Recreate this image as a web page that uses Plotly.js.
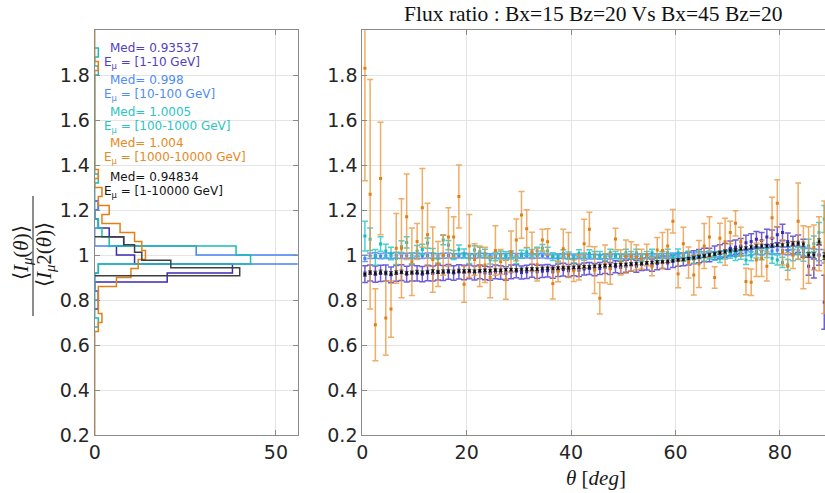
<!DOCTYPE html>
<html>
<head>
<meta charset="utf-8">
<script src="https://cdn.plot.ly/plotly-3.0.1.min.js"></script>
<style>html,body{margin:0;padding:0;background:#fff;}#plot{width:825px;height:493px;}</style>
</head>
<body>
<div id="plot"></div>
<script>
// ---------- data ----------
const theta = [0.5,1.5,2.5,3.5,4.5,5.5,6.5,7.5,8.5,9.5,10.5,11.5,12.5,13.5,14.5,15.5,16.5,17.5,18.5,19.5,
  20.5,21.5,22.5,23.5,24.5,25.5,26.5,27.5,28.5,29.5,30.5,31.5,32.5,33.5,34.5,35.5,36.5,37.5,38.5,39.5,
  40.5,41.5,42.5,43.5,44.5,45.5,46.5,47.5,48.5,49.5,50.5,51.5,52.5,53.5,54.5,55.5,56.5,57.5,58.5,59.5,
  60.5,61.5,62.5,63.5,64.5,65.5,66.5,67.5,68.5,69.5,70.5,71.5,72.5,73.5,74.5,75.5,76.5,77.5,78.5,79.5,
  80.5,81.5,82.5,83.5,84.5,85.5,86.5,87.5,88.5];

const ratio_1_10 = [0.915,0.92,0.915,0.918,0.92,0.912,0.918,0.922,0.915,0.92,
  0.918,0.915,0.92,0.918,0.922,0.92,0.925,0.92,0.925,0.922,
  0.925,0.92,0.925,0.92,0.918,0.925,0.922,0.918,0.925,0.928,
  0.922,0.925,0.93,0.925,0.928,0.93,0.925,0.932,0.935,0.93,
  0.935,0.932,0.938,0.94,0.935,0.94,0.945,0.94,0.948,0.945,
  0.95,0.955,0.95,0.958,0.96,0.955,0.962,0.968,0.965,0.972,
  0.978,0.98,0.985,0.99,0.995,1.0,1.0,1.01,1.015,1.02,
  1.03,1.035,1.04,1.055,1.06,1.07,1.065,1.08,1.075,1.09,
  1.1,1.06,1.045,1.05,1.03,0.95,0.94,1.0,0.79];
const err_1_10 = [0.037,0.036,0.036,0.036,0.035,0.035,0.035,0.035,0.035,0.035,
  0.034,0.034,0.034,0.033,0.033,0.033,0.033,0.032,0.032,0.032,
  0.031,0.031,0.031,0.03,0.03,0.03,0.03,0.03,0.03,0.029,
  0.029,0.029,0.029,0.029,0.028,0.028,0.028,0.028,0.028,0.028,
  0.027,0.027,0.027,0.027,0.027,0.027,0.027,0.027,0.027,0.027,
  0.027,0.027,0.027,0.027,0.027,0.027,0.027,0.028,0.028,0.028,
  0.028,0.028,0.029,0.029,0.029,0.03,0.03,0.03,0.031,0.031,
  0.032,0.032,0.033,0.033,0.034,0.034,0.035,0.035,0.036,0.036,
  0.037,0.038,0.038,0.039,0.04,0.04,0.042,0.045,0.12];

const ratio_10_100 = [0.985,0.997,0.998,0.995,0.997,0.996,0.998,0.995,0.997,0.998,
  0.997,0.996,0.998,0.997,0.995,0.997,0.998,0.996,0.997,0.998,
  0.997,0.996,0.998,0.997,0.996,0.995,0.997,0.996,0.998,0.997,
  0.996,0.997,0.995,0.996,0.997,0.995,0.994,0.996,0.995,0.994,
  0.995,0.993,0.994,0.992,0.993,0.991,0.993,0.992,0.994,0.993,
  0.992,0.994,0.993,0.995,0.994,0.996,0.995,0.997,0.996,0.998,
  0.997,0.999,1.0,0.998,1.001,1.002,1.0,1.003,1.004,1.005,
  1.006,1.008,1.01,1.012,1.015,1.018,1.016,1.02,1.018,1.022,
  1.02,1.018,1.022,1.02,1.015,1.01,1.005,1.0,0.995];
const err_10_100 = [0.014,0.012,0.012,0.012,0.012,0.012,0.012,0.011,0.011,0.011,
  0.011,0.011,0.011,0.011,0.011,0.011,0.011,0.01,0.01,0.01,
  0.01,0.01,0.01,0.01,0.01,0.01,0.01,0.01,0.01,0.01,
  0.01,0.01,0.01,0.01,0.01,0.01,0.01,0.01,0.01,0.01,
  0.01,0.01,0.01,0.01,0.01,0.01,0.01,0.01,0.01,0.01,
  0.01,0.01,0.01,0.01,0.01,0.01,0.01,0.01,0.01,0.011,
  0.011,0.011,0.011,0.011,0.012,0.012,0.012,0.012,0.012,0.013,
  0.013,0.013,0.013,0.014,0.014,0.014,0.015,0.015,0.015,0.016,
  0.016,0.017,0.017,0.018,0.019,0.02,0.022,0.025,0.03];

const ratio_100_1000 = [1.084,1.07,0.99,1.049,1.018,1.007,0.985,1.037,1.056,0.985,
  1.018,1.025,1.053,1.007,0.985,1.067,1.044,1.0,1.025,1.007,
  0.982,1.022,1.015,1.007,0.978,0.993,1.0,0.996,1.0,0.978,
  1.004,1.015,1.007,1.018,1.03,1.018,0.993,0.985,1.007,0.997,
  0.982,1.007,0.993,1.007,1.0,1.0,0.99,1.01,1.0,0.99,
  1.01,1.0,1.01,0.99,1.0,1.01,0.99,1.0,1.01,0.99,
  1.01,0.99,1.0,0.98,1.0,0.99,1.0,0.995,0.985,1.0,
  1.005,0.995,1.0,0.978,0.995,1.007,1.0,1.01,0.985,0.978,
  0.967,0.956,1.0,1.007,1.0,1.04,1.05,1.1,1.16];
const err_100_1000 = [0.066,0.05,0.035,0.032,0.03,0.028,0.027,0.026,0.025,0.024,
  0.024,0.023,0.023,0.022,0.022,0.021,0.021,0.02,0.02,0.02,
  0.02,0.019,0.019,0.019,0.018,0.018,0.018,0.018,0.018,0.017,
  0.017,0.017,0.017,0.017,0.017,0.017,0.017,0.016,0.016,0.016,
  0.016,0.016,0.016,0.016,0.016,0.016,0.016,0.016,0.016,0.016,
  0.016,0.016,0.016,0.016,0.016,0.016,0.016,0.016,0.016,0.016,
  0.017,0.017,0.017,0.017,0.017,0.017,0.018,0.018,0.018,0.018,
  0.019,0.019,0.019,0.02,0.02,0.02,0.021,0.021,0.022,0.022,
  0.023,0.024,0.025,0.026,0.028,0.03,0.035,0.045,0.06];

const ratio_1000_10000 = [1.83,1.27,0.69,1.34,0.72,0.76,1.03,1.03,1.17,0.97,
  1.06,1.21,1.09,0.98,0.96,1.0,1.08,1.08,1.26,0.87,
  1.04,0.98,0.95,0.956,0.90,1.02,0.97,0.89,1.015,1.067,
  1.178,1.117,1.015,0.957,1.067,1.059,0.873,0.927,1.028,1.0,
  0.93,0.945,1.05,1.114,0.933,0.808,0.961,0.939,1.071,0.967,
  0.993,0.994,0.99,0.982,1.0,0.948,1.022,1.02,1.04,1.15,
  0.916,1.05,0.967,0.911,0.96,1.04,1.08,0.90,1.074,1.059,
  1.10,1.141,1.059,0.882,0.879,0.978,0.985,0.95,1.166,1.23,
  1.012,0.95,1.0,1.15,0.99,1.0,1.033,1.05,0.99];
const err_1000_10000 = [0.5,0.51,0.16,0.25,0.165,0.125,0.155,0.22,0.19,0.15,
  0.08,0.175,0.14,0.145,0.10,0.09,0.13,0.09,0.14,0.08,
  0.14,0.07,0.09,0.078,0.09,0.11,0.055,0.087,0.092,0.093,
  0.104,0.084,0.086,0.073,0.048,0.058,0.069,0.046,0.087,0.1,
  0.048,0.056,0.109,0.076,0.104,0.07,0.084,0.069,0.048,0.056,
  0.074,0.065,0.056,0.044,0.048,0.04,0.056,0.08,0.073,0.052,
  0.061,0.073,0.069,0.089,0.104,0.1,0.09,0.048,0.067,0.104,
  0.05,0.056,0.064,0.059,0.059,0.074,0.081,0.065,0.091,0.104,
  0.056,0.06,0.06,0.17,0.14,0.126,0.1,0.12,0.25];

const ratio_1_10000 = [0.915,0.922,0.92,0.925,0.92,0.918,0.922,0.925,0.92,0.922,
  0.925,0.922,0.925,0.928,0.925,0.927,0.928,0.926,0.93,0.928,
  0.93,0.928,0.93,0.932,0.93,0.933,0.932,0.934,0.935,0.934,
  0.936,0.937,0.938,0.937,0.94,0.941,0.94,0.942,0.944,0.943,
  0.945,0.946,0.948,0.947,0.95,0.951,0.953,0.954,0.956,0.957,
  0.958,0.96,0.962,0.963,0.965,0.967,0.969,0.97,0.972,0.975,
  0.978,0.98,0.984,0.988,0.992,0.996,1.0,1.005,1.01,1.015,
  1.02,1.022,1.028,1.03,1.035,1.038,1.04,1.04,1.042,1.045,
  1.044,1.046,1.05,1.052,1.048,1.0,1.0,1.06,0.995];
const err_1_10000 = [0.009,0.008,0.008,0.008,0.008,0.008,0.008,0.008,0.007,0.007,
  0.007,0.007,0.007,0.007,0.007,0.007,0.007,0.007,0.007,0.007,
  0.006,0.006,0.006,0.006,0.006,0.006,0.006,0.006,0.006,0.006,
  0.006,0.006,0.006,0.006,0.006,0.006,0.006,0.006,0.006,0.006,
  0.006,0.006,0.006,0.006,0.006,0.006,0.006,0.006,0.006,0.006,
  0.006,0.006,0.006,0.006,0.006,0.006,0.006,0.006,0.006,0.006,
  0.006,0.006,0.006,0.007,0.007,0.007,0.007,0.007,0.007,0.007,
  0.007,0.007,0.007,0.007,0.008,0.008,0.008,0.008,0.008,0.008,
  0.008,0.008,0.009,0.009,0.009,0.01,0.01,0.012,0.015];

// histogram (left panel): bin edges and counts per energy range
const histEdges_1_10 = [0.76,0.80,0.84,0.88,0.92,0.96,1.00,1.04,1.08,1.12,1.16,1.20,1.24];
const histCounts_1_10 = [1,1,0,20,38,11,6,8,4,1,0,1];
const histEdges_10_100 = [0.80,0.84,0.88,0.92,0.96,1.00,1.04,1.08,1.12,1.16,1.20,1.24];
const histCounts_10_100 = [1,0,0,1,57,28,0,0,1,0,1];
const histEdges_100_1000 = [0.68,0.72,0.76,0.80,0.84,0.88,0.92,0.96,1.00,1.04,1.08,1.12,1.16,1.20,1.24,1.28,1.32,1.36,1.40,1.80,1.84,1.88,1.92];
const histCounts_100_1000 = [1,0,0,0,0,0,1,43,39,4,2,1,0,0,0,0,1,0,0,1,0,1];
const histEdges_1000_10000 = [0.20,0.66,0.70,0.74,0.78,0.82,0.86,0.90,0.94,0.98,1.02,1.06,1.10,1.14,1.18,1.22,1.26,1.30,1.34,1.38,1.82,1.86,2.00];
const histCounts_1000_10000 = [0,1,2,1,1,1,6,10,12,14,13,11,7,2,4,1,2,0,1,0,1,0];
const histEdges_1_10000 = [0.908,0.943,0.977,1.012,1.046,1.081];
const histCounts_1_10000 = [40,21,13,11,8];

const medians = ['0.93537','0.998','1.0005','1.004','0.94834'];
const rangeLabels = ['[1-10 GeV]','[10-100 GeV]','[100-1000 GeV]','[1000-10000 GeV]','[1-10000 GeV]'];
const yTicks = [0.2,0.4,0.6,0.8,1,1.2,1.4,1.6,1.8];

// ---------- styling ----------
const col = {
  v: {m:'rgb(60,42,180)', e:'rgba(86,66,205,0.85)', t:'rgb(82,62,192)'},
  b: {m:'rgb(70,130,245)', e:'rgba(80,140,250,0.85)', t:'rgb(80,140,245)'},
  c: {m:'rgb(30,185,185)', e:'rgba(45,200,200,0.85)', t:'rgb(45,195,195)'},
  o: {m:'rgb(225,128,20)', e:'rgba(236,150,60,0.78)', t:'rgb(230,138,36)'},
  k: {m:'rgb(15,15,15)', e:'rgba(30,30,30,0.75)', t:'rgb(20,20,20)'}
};

function stairs(edges, counts){
  const xs=[0], ys=[edges[0]];
  for(let i=0;i<counts.length;i++){ xs.push(counts[i],counts[i]); ys.push(edges[i],edges[i+1]); }
  xs.push(0); ys.push(edges[edges.length-1]);
  return {xs, ys};
}
function histTrace(edges, counts, color){
  const s = stairs(edges, counts);
  return {x:s.xs, y:s.ys, type:'scatter', mode:'lines', xaxis:'x', yaxis:'y',
    line:{color:color, width:1.5}, hoverinfo:'skip', showlegend:false};
}
function ebTrace(y, e, c, msize, thick, capw){
  return {x:theta, y:y, type:'scatter', mode:'markers', xaxis:'x2', yaxis:'y2',
    marker:{color:c.m, size:msize, symbol:'square'},
    error_y:{type:'data', array:e, visible:true, color:c.e, thickness:thick, width:capw},
    showlegend:false};
}

const traces = [
  histTrace(histEdges_1_10, histCounts_1_10, col.v.m),
  histTrace(histEdges_10_100, histCounts_10_100, col.b.m),
  histTrace(histEdges_100_1000, histCounts_100_1000, col.c.m),
  histTrace(histEdges_1000_10000, histCounts_1000_10000, col.o.m),
  histTrace(histEdges_1_10000, histCounts_1_10000, 'rgb(64,64,64)'),
  ebTrace(ratio_1_10, err_1_10, col.v, 3, 1.5, 3),
  ebTrace(ratio_10_100, err_10_100, col.b, 3, 1.5, 3),
  ebTrace(ratio_100_1000, err_100_1000, col.c, 3, 1.5, 3),
  ebTrace(ratio_1000_10000, err_1000_10000, col.o, 3, 1.5, 3),
  ebTrace(ratio_1_10000, err_1_10000, col.k, 2.5, 1, 2)
];

const W=825, H=493, T=30, B=435;
const px = x => x/W;
const py = y => (B - y)/(B - T);

const axisCommon = {
  showline:true, linecolor:'#8a8a8a', linewidth:1,
  ticks:'inside', ticklen:5, tickcolor:'#8a8a8a',
  showgrid:true, gridcolor:'#e4e4e4', gridwidth:1, zeroline:false,
  tickfont:{family:'DejaVu Sans', size:19, color:'#262626'}
};

const annotations = [];
const tcols = [col.v.t, col.b.t, col.c.t, col.o.t, col.k.t];
const medY = [47.7, 80, 111.7, 142.7, 176.7];
for(let i=0;i<5;i++){
  annotations.push({xref:'paper', yref:'paper', x:px(108), y:py(medY[i]), xanchor:'left', yanchor:'middle',
    text:'Med= '+medians[i], showarrow:false, font:{family:'DejaVu Sans', size:12, color:tcols[i]}});
  annotations.push({xref:'paper', yref:'paper', x:px(101.5), y:py(medY[i]+15), xanchor:'left', yanchor:'middle',
    text:'E<sub>μ</sub> = '+rangeLabels[i], showarrow:false, font:{family:'DejaVu Sans', size:12, color:tcols[i]}});
}
// y-axis label as a fraction
annotations.push({xref:'paper', yref:'paper', x:px(22), y:py(253), xanchor:'center', yanchor:'middle', textangle:-90,
  text:'⟨<i>I</i><sub><i>μ</i></sub>(<i>θ</i>)⟩', showarrow:false, font:{family:'Liberation Serif', size:21, color:'#1a1a1a'}});
annotations.push({xref:'paper', yref:'paper', x:px(45), y:py(255), xanchor:'center', yanchor:'middle', textangle:-90,
  text:'⟨<i>I</i><sub><i>μ</i></sub>2(<i>θ</i>)⟩', showarrow:false, font:{family:'Liberation Serif', size:21, color:'#1a1a1a'}});
// x-axis label
annotations.push({xref:'paper', yref:'paper', x:px(596), y:py(478), xanchor:'center', yanchor:'middle',
  text:'<i>θ</i> [<i>deg</i>]', showarrow:false, font:{family:'Liberation Serif', size:21, color:'#1a1a1a'}});

const layout = {
  width:W, height:H, margin:{l:0, r:0, t:T, b:H-B, pad:0},
  paper_bgcolor:'#fff', plot_bgcolor:'#fff', showlegend:false,
  title:{text:'Flux ratio : Bx=15 Bz=20 Vs Bx=45 Bz=20', font:{family:'Liberation Serif', size:21.5, color:'#111'},
    xref:'paper', x:px(593.3), xanchor:'center', yref:'container', y:1-13/H, yanchor:'middle'},
  xaxis: Object.assign({}, axisCommon, {domain:[px(94.7), px(297.7)], range:[0,56], tickvals:[0,50], mirror:'ticks', anchor:'y'}),
  yaxis: Object.assign({}, axisCommon, {domain:[0,1], range:[0.2,2.0], tickvals:yTicks, mirror:'ticks', anchor:'x'}),
  xaxis2: Object.assign({}, axisCommon, {domain:[px(362.3), 1], range:[0,(W-362.3)/5.22], tickvals:[0,20,40,60,80], mirror:'ticks', anchor:'y2'}),
  yaxis2: Object.assign({}, axisCommon, {domain:[0,1], range:[0.2,2.0], tickvals:yTicks, mirror:false, anchor:'x2'}),
  shapes:[{type:'line', xref:'paper', yref:'paper', x0:px(33), x1:px(33), y0:py(196), y1:py(316), line:{color:'#1a1a1a', width:1}}],
  annotations: annotations
};

Plotly.newPlot('plot', traces, layout, {staticPlot:true, displayModeBar:false});
</script>
</body>
</html>
